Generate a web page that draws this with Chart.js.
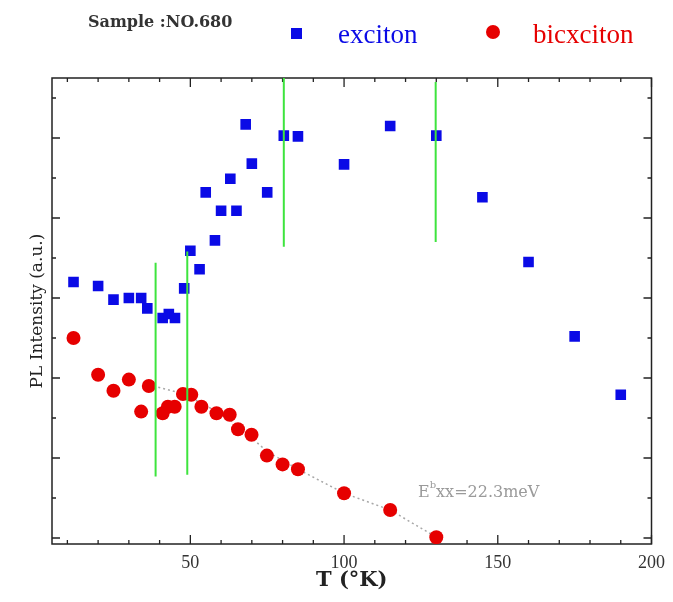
<!DOCTYPE html>
<html><head><meta charset="utf-8">
<script src="https://cdn.jsdelivr.net/npm/chart.js@4.4.1/dist/chart.umd.min.js"></script>
<style>html,body{margin:0;padding:0;background:#fff;} canvas{display:block;}</style>
</head><body>
<canvas id="c" width="673" height="602"></canvas>
<script>
// ---- data (T in K, PL intensity in arbitrary units) ----
const excitonT = [12, 20, 25, 30, 34, 36, 41, 43, 45, 48, 50, 53, 55, 58, 60, 63, 65, 68, 70, 75, 80.4, 85, 100, 115, 130, 145, 160, 175, 190];
const excitonI = [3.20, 3.15, 2.98, 3.00, 3.00, 2.87, 2.75, 2.80, 2.75, 3.12, 3.59, 3.36, 4.32, 3.72, 4.09, 4.49, 4.09, 5.17, 4.68, 4.32, 5.03, 5.02, 4.67, 5.15, 5.03, 4.26, 3.45, 2.52, 1.79];
const bicxcitonT = [12, 20, 25, 30, 34, 36.5, 41, 42.7, 44.9, 47.6, 50.3, 53.6, 58.5, 62.8, 65.5, 69.9, 74.9, 80, 85, 100, 115, 130];
const bicxcitonI = [2.50, 2.04, 1.84, 1.98, 1.58, 1.90, 1.56, 1.64, 1.64, 1.80, 1.79, 1.64, 1.56, 1.54, 1.36, 1.29, 1.03, 0.92, 0.86, 0.56, 0.35, 0.01];
const fitT = [38, 47, 55, 65, 75, 85, 100, 115, 130];
const fitI = [1.90, 1.81, 1.66, 1.42, 1.08, 0.86, 0.56, 0.35, 0.01];
const markerT = [38.7, 49.0, 80.4, 129.8];
const markerLow = [0.77, 0.79, 3.64, 3.70];
const markerHigh = [3.44, 3.58, 5.75, 5.70];
const xTickLabels = [50, 100, 150, 200];
const xMinorTicks = [10, 20, 30, 40, 60, 70, 80, 90, 110, 120, 130, 140, 160, 170, 180, 190];
const yMajorTicks = [0, 1, 2, 3, 4, 5];
const yMinorTicks = [0.5, 1.5, 2.5, 3.5, 4.5, 5.5];

const BLUE = '#0a0ae6';
const RED = '#e60000';
const GREEN = '#3ee43e';

const pairs = (xs, ys) => xs.map((x, i) => ({x: x, y: ys[i]}));

const datasets = [];
markerT.forEach((t, i) => {
  datasets.push({
    label: 'marker' + i,
    data: [{x: t, y: markerLow[i]}, {x: t, y: markerHigh[i]}],
    showLine: true, borderColor: GREEN, borderWidth: 2, pointRadius: 0, order: 0
  });
});
datasets.push({
  label: 'exciton', data: pairs(excitonT, excitonI),
  pointStyle: 'rect', pointRadius: 7.5, backgroundColor: BLUE, borderColor: BLUE, borderWidth: 0, order: 1
});
datasets.push({
  label: 'bicxciton', data: pairs(bicxcitonT, bicxcitonI),
  pointStyle: 'circle', pointRadius: 7, backgroundColor: RED, borderColor: RED, borderWidth: 0, order: 2
});
datasets.push({
  label: 'fit', data: pairs(fitT, fitI),
  showLine: true, borderColor: '#a8a8a8', borderWidth: 1.5, borderDash: [2, 3], pointRadius: 0, order: 3
});

const framePlugin = {
  id: 'frame',
  beforeDatasetsDraw(chart) {
    const {ctx, chartArea: a, scales: {x, y}} = chart;
    ctx.save();
    ctx.strokeStyle = '#222';
    ctx.lineWidth = 1.5;
    ctx.strokeRect(a.left, a.top, a.right - a.left, a.bottom - a.top);
    ctx.lineWidth = 1.3;
    ctx.beginPath();
    const vt = (v, len) => {
      const px = x.getPixelForValue(v);
      ctx.moveTo(px, a.bottom); ctx.lineTo(px, a.bottom - len);
      ctx.moveTo(px, a.top); ctx.lineTo(px, a.top + len);
    };
    xTickLabels.forEach(v => vt(v, 9));
    xMinorTicks.forEach(v => vt(v, 4));
    const ht = (v, len) => {
      const py = y.getPixelForValue(v);
      ctx.moveTo(a.left, py); ctx.lineTo(a.left + len, py);
      ctx.moveTo(a.right, py); ctx.lineTo(a.right - len, py);
    };
    yMajorTicks.forEach(v => ht(v, 8));
    yMinorTicks.forEach(v => ht(v, 4));
    ctx.stroke();
    ctx.restore();
  },
  afterDraw(chart) {
    const {ctx} = chart;
    ctx.save();
    // sample label
    ctx.fillStyle = '#333';
    ctx.font = 'bold 16px "DejaVu Serif"';
    ctx.textBaseline = 'alphabetic';
    ctx.fillText('Sample :NO.680', 88, 27);
    // legend
    ctx.fillStyle = BLUE;
    ctx.fillRect(291, 28, 11, 11);
    ctx.font = '27px "Liberation Serif"';
    ctx.fillText('exciton', 338, 43);
    ctx.fillStyle = RED;
    ctx.beginPath(); ctx.arc(493, 32, 7, 0, Math.PI * 2); ctx.fill();
    ctx.fillText('bicxciton', 533, 43);
    // annotation
    ctx.fillStyle = '#9a9a9a';
    ctx.font = '16px "DejaVu Serif"';
    ctx.fillText('E', 418, 497);
    const ew = ctx.measureText('E').width;
    ctx.font = '10px "DejaVu Serif"';
    ctx.fillText('b', 418 + ew, 488);
    const bw = ctx.measureText('b').width;
    ctx.font = '16px "DejaVu Serif"';
    ctx.fillText('xx=22.3meV', 418 + ew + bw, 497);
    ctx.restore();
  }
};

new Chart(document.getElementById('c'), {
  type: 'scatter',
  data: {datasets: datasets},
  options: {
    responsive: false,
    animation: false,
    layout: {padding: {top: 78, right: 21, left: 0, bottom: 0}},
    plugins: {legend: {display: false}, tooltip: {enabled: false}},
    scales: {
      x: {
        type: 'linear', min: 5, max: 200,
        afterBuildTicks: s => { s.ticks = xTickLabels.map(v => ({value: v})); },
        afterFit: s => { s.height = 58; },
        grid: {display: false, drawTicks: false}, border: {display: false},
        ticks: {font: {family: 'Liberation Serif', size: 18}, color: '#333', padding: 8, maxRotation: 0, autoSkip: false},
        title: {display: true, text: 'T (°K)', color: '#222', font: {family: 'DejaVu Serif', size: 21, weight: 'bold'}, padding: {top: 0, bottom: 9}}
      },
      y: {
        type: 'linear', min: -0.075, max: 5.75,
        afterFit: s => { s.width = 52; },
        grid: {display: false, drawTicks: false}, border: {display: false},
        ticks: {display: false},
        title: {display: true, text: 'PL Intensity (a.u.)', color: '#222', font: {family: 'DejaVu Serif', size: 17}, padding: {top: 27, bottom: 0}}
      }
    }
  },
  plugins: [framePlugin]
});
</script>
</body></html>
